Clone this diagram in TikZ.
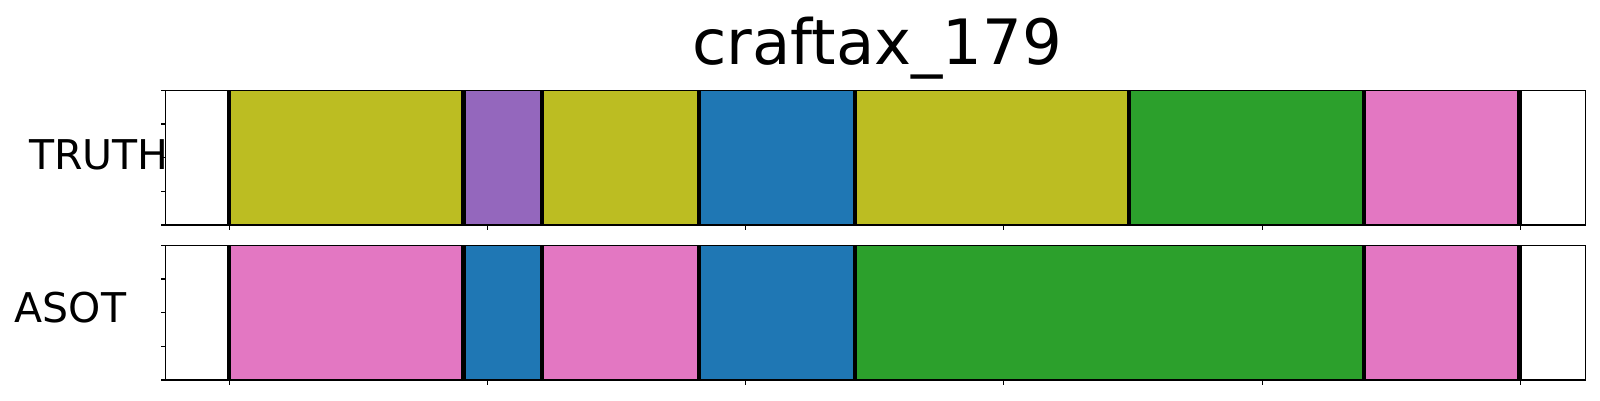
\documentclass[tikz,border=0pt]{standalone}
\usepackage{fontspec}
\setmainfont{DejaVu Sans}
\definecolor{tabolive}{HTML}{BCBD22}
\definecolor{tabpurple}{HTML}{9467BD}
\definecolor{tabblue}{HTML}{1F77B4}
\definecolor{tabpink}{HTML}{E377C2}
\definecolor{tabgreen}{HTML}{2CA02C}
\tikzset{
  frame/.style={draw=black, line width=1.1pt},
  bound/.style={draw=black, line width=4.5pt},
  tickmark/.style={draw=black, line width=1.1pt},
  lbl/.style={inner sep=0pt, font=\fontsize{41}{41}\selectfont, anchor=base west},
}
\begin{document}
\begin{tikzpicture}[x=1pt,y=-1pt]
\useasboundingbox (0,0) rectangle (1600,400);
\fill[white] (0,0) rectangle (1600,400);
% ---- top axis (TRUTH)
\def\ta{90.3}\def\tb{225}
\fill[tabolive]  (229,\ta) rectangle (463.7,\tb);
\fill[tabpurple] (463.7,\ta) rectangle (542,\tb);
\fill[tabolive]  (542,\ta) rectangle (699,\tb);
\fill[tabblue]   (699,\ta) rectangle (855,\tb);
\fill[tabolive]  (855,\ta) rectangle (1129,\tb);
\fill[tabgreen]  (1129,\ta) rectangle (1364,\tb);
\fill[tabpink]   (1364,\ta) rectangle (1519.7,\tb);
\foreach \b in {229,463.7,542,699,855,1129,1364,1519.7}
  \draw[bound] (\b,\ta) -- (\b,\tb);
\draw[frame] (165.7,\ta) rectangle (1585.7,\tb);
% ---- bottom axis (ASOT)
\def\ba{245.3}\def\bb{380}
\fill[tabpink]  (229,\ba) rectangle (463.7,\bb);
\fill[tabblue]  (463.7,\ba) rectangle (542,\bb);
\fill[tabpink]  (542,\ba) rectangle (699,\bb);
\fill[tabblue]  (699,\ba) rectangle (855,\bb);
\fill[tabgreen] (855,\ba) rectangle (1364,\bb);
\fill[tabpink]  (1364,\ba) rectangle (1519.7,\bb);
\foreach \b in {229,463.7,542,699,855,1364,1519.7}
  \draw[bound] (\b,\ba) -- (\b,\bb);
\draw[frame] (165.7,\ba) rectangle (1585.7,\bb);
% ---- ticks
\foreach \k in {0,...,4}{
  \draw[tickmark] (165.7,{\ta+\k*(\tb-\ta)/4}) -- ++(-4.7,0);
  \draw[tickmark] (165.7,{\ba+\k*(\bb-\ba)/4}) -- ++(-4.7,0);
}
\foreach \k in {0,...,5}{
  \draw[tickmark] ({229.3+\k*258.2},\tb) -- ++(0,4.5);
  \draw[tickmark] ({229.3+\k*258.2},\bb) -- ++(0,4.5);
}
% ---- labels
\node[lbl] (truth) at (29,169.3) {TRUTH};
\node[lbl] (asot) at (14.7,322.5) {ASOT};
\node[inner sep=0pt, anchor=base, font=\fontsize{62.5}{62.5}\selectfont] (title) at (877,64.5) {craftax\_179};
\end{tikzpicture}
\end{document}
